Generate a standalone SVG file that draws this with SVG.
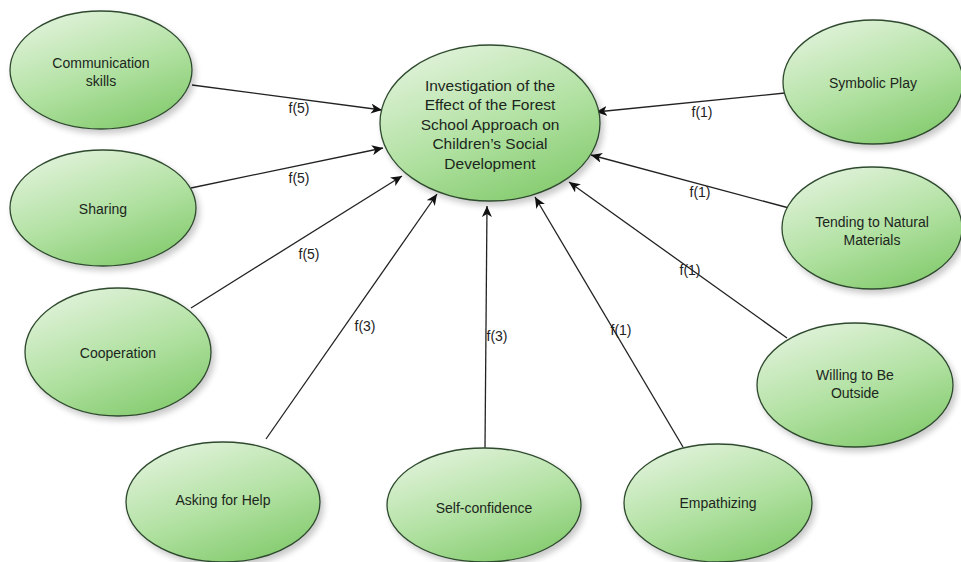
<svg xmlns="http://www.w3.org/2000/svg" width="961" height="562" viewBox="0 0 961 562">
  <defs>
    <linearGradient id="leaf" x1="0.15" y1="0" x2="0.7" y2="1">
      <stop offset="0" stop-color="#e4f3de"/>
      <stop offset="0.55" stop-color="#b3e2a4"/>
      <stop offset="1" stop-color="#86cc70"/>
    </linearGradient>
    <filter id="shade" x="-10%" y="-10%" width="125%" height="130%">
      <feGaussianBlur in="SourceAlpha" stdDeviation="3"/>
      <feOffset dx="3" dy="4" result="b"/>
      <feComponentTransfer><feFuncA type="linear" slope="0.22"/></feComponentTransfer>
      <feMerge><feMergeNode/><feMergeNode in="SourceGraphic"/></feMerge>
    </filter>
    <marker id="tip" markerWidth="12" markerHeight="10" refX="11" refY="5" orient="auto" markerUnits="userSpaceOnUse">
      <path d="M0,0 L11,5 L0,10 L3,5 z" fill="#111"/>
    </marker>
  </defs>
  <style>
    .node ellipse { fill: url(#leaf); stroke: #2f4a2f; stroke-width: 1.3; filter: url(#shade); }
    .node text { font-family: "Liberation Sans", Arial, sans-serif; font-size: 14px; fill: #1c261c; text-anchor: middle; }
    #hub text { font-size: 15.5px; }
    .edges line { stroke: #222; stroke-width: 1.3; marker-end: url(#tip); }
    .edges text { font-family: "Liberation Sans", Arial, sans-serif; font-size: 14px; fill: #222; text-anchor: middle; }
  </style>
  <rect width="961" height="562" fill="#ffffff"/>

  <!-- connectors -->
  <g id="connectors" class="edges">
    <line x1="192" y1="85" x2="382" y2="110"/>
    <line x1="191" y1="188" x2="383" y2="148"/>
    <line x1="191" y1="308" x2="402" y2="176"/>
    <line x1="266" y1="439" x2="437" y2="194"/>
    <line x1="485" y1="448" x2="487" y2="206"/>
    <line x1="683" y1="447" x2="535" y2="197"/>
    <line x1="787" y1="338" x2="569" y2="182"/>
    <line x1="789" y1="208" x2="591" y2="155"/>
    <line x1="785" y1="93" x2="596" y2="112"/>
    <text x="299" y="113">f(5)</text>
    <text x="299" y="183">f(5)</text>
    <text x="309" y="259">f(5)</text>
    <text x="365" y="331">f(3)</text>
    <text x="497" y="341">f(3)</text>
    <text x="621" y="335">f(1)</text>
    <text x="690" y="275">f(1)</text>
    <text x="700" y="197">f(1)</text>
    <text x="702" y="117">f(1)</text>
  </g>

  <!-- nodes -->
  <g id="hub" class="node">
    <ellipse cx="490" cy="123" rx="110" ry="78"/>
    <text x="490" y="90.5">Investigation of the</text>
    <text x="490" y="110">Effect of the Forest</text>
    <text x="490" y="129.5">School Approach on</text>
    <text x="490" y="149">Children’s Social</text>
    <text x="490" y="168.5">Development</text>
  </g>
  <g id="communication" class="node">
    <ellipse cx="101" cy="70" rx="91" ry="59"/>
    <text x="101" y="68">Communication</text>
    <text x="101" y="86">skills</text>
  </g>
  <g id="sharing" class="node">
    <ellipse cx="103" cy="208" rx="93" ry="58"/>
    <text x="103" y="214">Sharing</text>
  </g>
  <g id="cooperation" class="node">
    <ellipse cx="118" cy="352" rx="93" ry="64"/>
    <text x="118" y="358">Cooperation</text>
  </g>
  <g id="asking" class="node">
    <ellipse cx="223" cy="502" rx="97" ry="60"/>
    <text x="223" y="505">Asking for Help</text>
  </g>
  <g id="selfconfidence" class="node">
    <ellipse cx="484" cy="505" rx="97" ry="57"/>
    <text x="484" y="513">Self-confidence</text>
  </g>
  <g id="empathizing" class="node">
    <ellipse cx="718" cy="503" rx="94" ry="59"/>
    <text x="718" y="508">Empathizing</text>
  </g>
  <g id="outside" class="node">
    <ellipse cx="855" cy="385" rx="98" ry="62"/>
    <text x="855" y="380">Willing to Be</text>
    <text x="855" y="398">Outside</text>
  </g>
  <g id="materials" class="node">
    <ellipse cx="872" cy="228" rx="90" ry="61"/>
    <text x="872" y="227">Tending to Natural</text>
    <text x="872" y="245">Materials</text>
  </g>
  <g id="symbolic" class="node">
    <ellipse cx="873" cy="82" rx="90" ry="62"/>
    <text x="873" y="88">Symbolic Play</text>
  </g>
</svg>
